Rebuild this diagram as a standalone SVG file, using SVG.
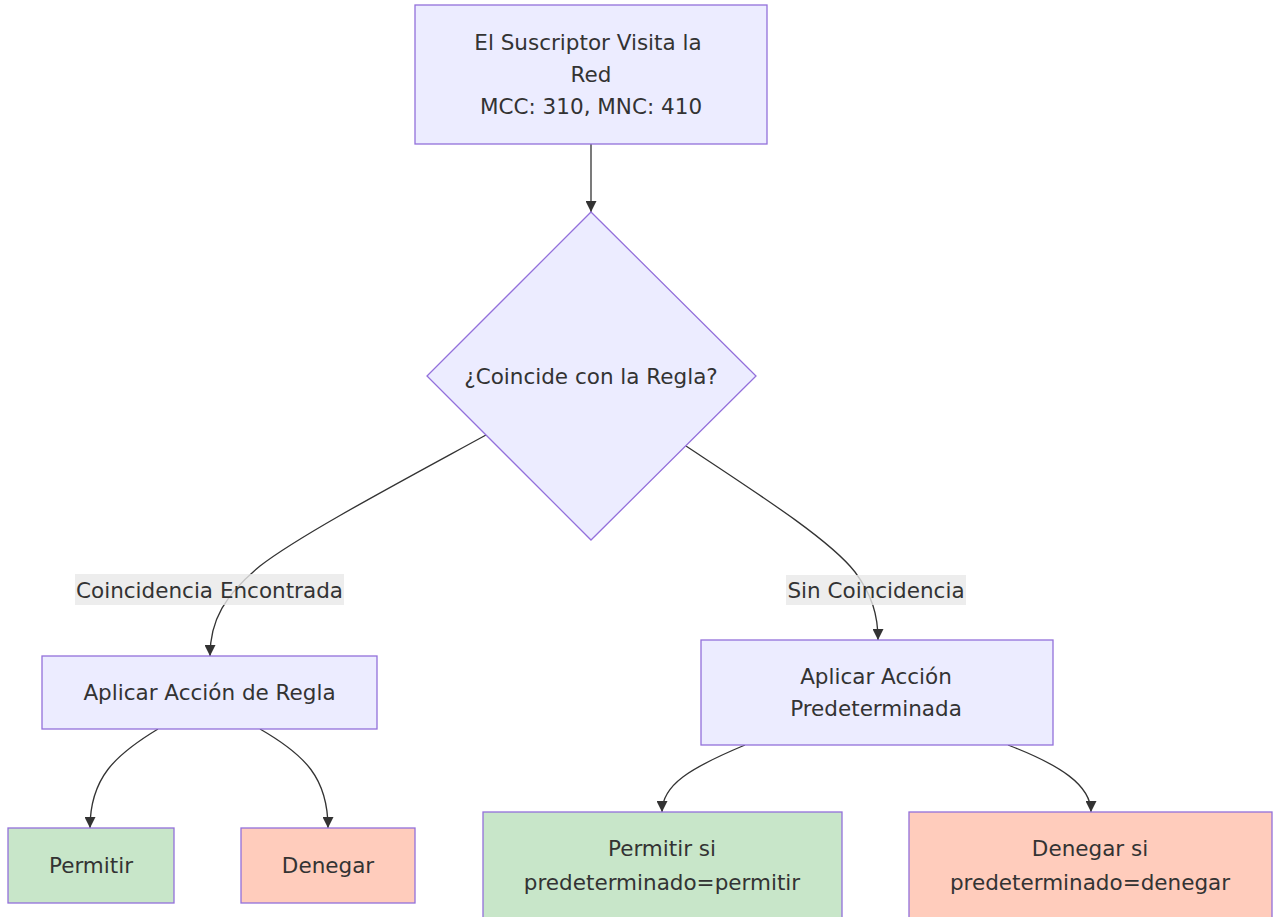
<svg xmlns="http://www.w3.org/2000/svg" width="1274" height="917" viewBox="0 0 1274 917">
<style>
.n{fill:#ECECFF;stroke:#9370DB;stroke-width:1.3}
.g{fill:#C8E6C9;stroke:#9370DB;stroke-width:1.3}
.r{fill:#FFCCBC;stroke:#9370DB;stroke-width:1.3}
.t{font-family:"DejaVu Sans",Verdana,sans-serif;font-size:21.5px;fill:#333;text-anchor:middle;dominant-baseline:central}
.e{fill:none;stroke:#333;stroke-width:1.3}
.lb{fill:#E8E8E8;fill-opacity:0.8}
</style>
<defs>
<marker id="ah" viewBox="0 0 10 10" refX="10" refY="5" markerWidth="11" markerHeight="11" markerUnits="userSpaceOnUse" orient="auto">
<path d="M0,0 L10,5 L0,10 z" fill="#333"/>
</marker>
</defs>
<rect width="1274" height="917" fill="#fff"/>
<g id="edges">
<path class="e" d="M591,144 L591,212" marker-end="url(#ah)"/>
<path class="e" d="M486,435 C400,482 300,535 260,566 C225,595 210,620 210,656" marker-end="url(#ah)"/>
<path class="e" d="M686,446 C760,495 830,540 855,572 C872,595 878,615 878,640" marker-end="url(#ah)"/>
<path class="e" d="M158,729 C115,755 90,778 90,828" marker-end="url(#ah)"/>
<path class="e" d="M260,729 C305,755 328,778 328,828" marker-end="url(#ah)"/>
<path class="e" d="M745,745 C690,768 662,785 662,812" marker-end="url(#ah)"/>
<path class="e" d="M1008,745 C1060,765 1091,785 1091,812" marker-end="url(#ah)"/>
</g>
<g id="edge-labels">
<rect class="lb" x="75" y="574" width="269" height="31"/>
<text class="t" x="209.5" y="590">Coincidencia Encontrada</text>
<rect class="lb" x="786" y="575" width="180" height="30"/>
<text class="t" x="876" y="590">Sin Coincidencia</text>
</g>
<g id="start">
<rect class="n" x="415" y="5" width="352" height="139"/>
<text class="t" x="588" y="42">El Suscriptor Visita la</text>
<text class="t" x="591" y="74">Red</text>
<text class="t" x="591" y="106">MCC: 310, MNC: 410</text>
</g>
<g id="decision">
<polygon class="n" points="591,212 756,376 591,540 427,376"/>
<text class="t" x="591" y="376">¿Coincide con la Regla?</text>
</g>
<g id="applyRule">
<rect class="n" x="42" y="656" width="335" height="73"/>
<text class="t" x="209.5" y="692">Aplicar Acción de Regla</text>
</g>
<g id="applyDefault">
<rect class="n" x="701" y="640" width="352" height="105"/>
<text class="t" x="876" y="676">Aplicar Acción</text>
<text class="t" x="876" y="708">Predeterminada</text>
</g>
<g id="allow">
<rect class="g" x="8" y="828" width="166" height="75"/>
<text class="t" x="91" y="865">Permitir</text>
</g>
<g id="deny">
<rect class="r" x="241" y="828" width="174" height="75"/>
<text class="t" x="328" y="865">Denegar</text>
</g>
<g id="allowDefault">
<rect class="g" x="483" y="812" width="359" height="130"/>
<text class="t" x="662" y="848">Permitir si</text>
<text class="t" x="662" y="882">predeterminado=permitir</text>
</g>
<g id="denyDefault">
<rect class="r" x="909" y="812" width="363" height="130"/>
<text class="t" x="1090" y="848">Denegar si</text>
<text class="t" x="1090" y="882">predeterminado=denegar</text>
</g>
</svg>
